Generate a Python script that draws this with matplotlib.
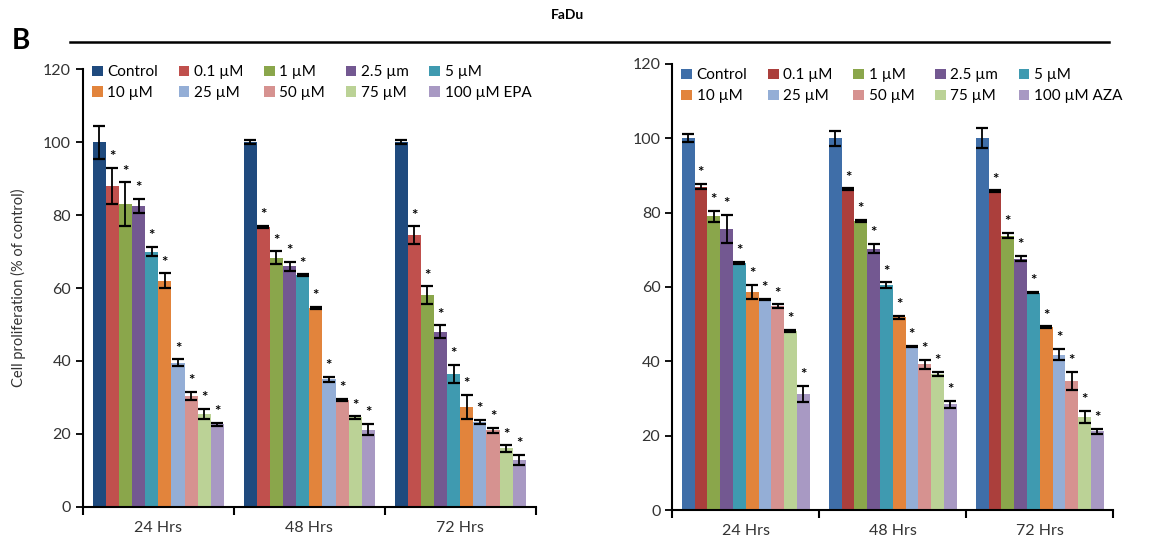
import matplotlib
matplotlib.use("Agg")
import matplotlib.pyplot as plt
import numpy as np

plt.rcParams['font.family'] = ['Lato', 'DejaVu Sans']

# data
groups = ["24 Hrs", "48 Hrs", "72 Hrs"]
labels_epa = ["Control", "0.1 µM", "1 µM", "2.5 µm", "5 µM",
              "10 µM", "25 µM", "50 µM", "75 µM", "100 µM EPA"]
labels_aza = labels_epa[:9] + ["100 µM AZA"]

# rows: 24, 48, 72 Hrs ; columns: the ten treatments
epa_mean = [
    [100, 88, 83, 82.5, 70, 62, 39.5, 30.5, 25.5, 22.7],
    [100, 76.7, 68.3, 66, 63.5, 54.5, 35, 29.3, 24.5, 21.2],
    [100, 74.5, 58, 48, 36.5, 27.5, 23.2, 21, 16, 12.8],
]
epa_err = [
    [4.5, 5, 6, 2, 1.3, 2, 1, 1.1, 1.3, 0.4],
    [0.5, 0.3, 1.8, 1.2, 0.3, 0.3, 0.7, 0.3, 0.3, 1.5],
    [0.5, 2.4, 2.5, 1.8, 2.5, 3.3, 0.6, 0.7, 0.9, 1.4],
]
aza_mean = [
    [100, 87, 79, 75.6, 66.5, 58.7, 56.6, 54.8, 48.2, 31.3],
    [100, 86.3, 77.8, 70.3, 60.5, 51.8, 44, 39.2, 36.6, 28.4],
    [100, 85.8, 73.8, 67.6, 58.5, 49.2, 41.8, 34.8, 25, 21.2],
]
aza_err = [
    [1, 0.8, 1.5, 3.8, 0.2, 1.9, 0.2, 0.5, 0.2, 2.2],
    [2, 0.2, 0.3, 1.2, 0.7, 0.4, 0.2, 1.2, 0.6, 1],
    [2.7, 0.2, 0.7, 0.7, 0.2, 0.2, 1.5, 2.4, 1.7, 0.7],
]

colors_epa = ["#1f4a7e", "#c0504d", "#8aa64b", "#735891", "#3f9ab0",
              "#e2843c", "#94aed6", "#d69290", "#bbd296", "#a899c3"]
colors_aza = ["#3f6ea8", "#ab3f3c"] + colors_epa[2:]

fig = plt.figure(figsize=(11.67, 5.45), dpi=100)
ax1 = fig.add_axes([0.071, 0.070, 0.388, 0.803])
ax2 = fig.add_axes([0.576, 0.064, 0.378, 0.819])


def draw(ax, means, errs, labels, colors, leg_y):
    means = np.array(means)
    errs = np.array(errs)
    x = np.arange(len(groups))
    w = 0.087
    handles = []
    for i in range(len(labels)):
        xs = x + (i - 4.5) * w
        b = ax.bar(xs, means[:, i], w, color=colors[i], label=labels[i])
        handles.append(b)
        ax.errorbar(xs, means[:, i], yerr=errs[:, i], fmt='none',
                    ecolor='black', elinewidth=1.3, capsize=4, capthick=1.6)
        if i > 0:
            for xx, m, e in zip(xs, means[:, i], errs[:, i]):
                ax.text(xx, m + e + 1.0, '*', ha='center', va='bottom',
                        fontsize=11, fontweight='bold', color='black')
    ax.set_xlim(-0.5, 2.5)
    ax.set_ylim(0, 120)
    ax.set_yticks(range(0, 121, 20))
    ax.set_xticks([-0.5, 0.5, 1.5, 2.5])
    ax.set_xticklabels([])
    ax.set_xticks(x, minor=True)
    ax.set_xticklabels(groups, minor=True, fontsize=11.5, color='#333333')
    ax.tick_params(axis='x', which='minor', length=0, pad=10)
    ax.tick_params(axis='x', which='major', length=6, width=1.5)
    ax.tick_params(axis='y', length=5, width=1.3, labelsize=11.5,
                   labelcolor='#333333')
    for s in ['top', 'right']:
        ax.spines[s].set_visible(False)
    for s in ['left', 'bottom']:
        ax.spines[s].set_linewidth(1.5)
    # rows read across: reorder for column-wise filling
    order = [0, 5, 1, 6, 2, 7, 3, 8, 4, 9]
    ax.legend([handles[k] for k in order], [labels[k] for k in order],
              ncol=5, loc='upper left', bbox_to_anchor=(0.0, leg_y),
              frameon=False, fontsize=11, handlelength=0.7,
              handleheight=0.7, handletextpad=0.3, columnspacing=1.35,
              labelspacing=0.45, borderaxespad=0.2)


draw(ax1, epa_mean, epa_err, labels_epa, colors_epa, 1.03)
draw(ax2, aza_mean, aza_err, labels_aza, colors_aza, 1.01)

ax1.set_ylabel("Cell proliferation (% of control)", fontsize=10.5,
               color='#333333', labelpad=12)

fig.text(0.486, 0.972, "FaDu", ha='center', va='center', fontsize=10,
         fontweight='bold')
fig.add_artist(plt.Line2D([0.060, 0.950], [0.923, 0.923], color='black',
                          linewidth=1.8))
fig.text(0.010, 0.925, "B", ha='left', va='center', fontsize=20,
         fontweight='bold')

fig.savefig("out.png", dpi=100)
